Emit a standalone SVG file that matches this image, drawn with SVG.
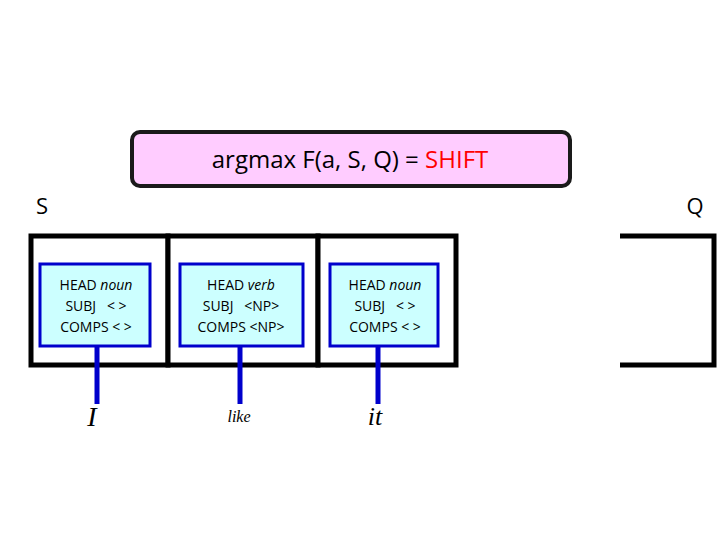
<svg xmlns="http://www.w3.org/2000/svg" width="720" height="540" viewBox="0 0 720 540">
<style>
.s{font-family:"Open Sans","Liberation Sans",sans-serif;font-size:14px;text-anchor:middle;fill:#000}
.w{font-family:"Liberation Serif",serif;font-style:italic;text-anchor:middle;fill:#000}
.cell{fill:#fff;stroke:#000;stroke-width:5}
.fs{fill:#ccffff;stroke:#0000cc;stroke-width:3}
.ln{stroke:#0000cc;stroke-width:5}
</style>
<rect width="720" height="540" fill="#fff"/>
<g id="banner">
<rect x="132" y="132" width="438" height="54" rx="8" fill="#ffccff" stroke="#1a1a1a" stroke-width="4"/>
<text x="350" y="168" font-family="Open Sans, Liberation Sans, sans-serif" font-size="24" text-anchor="middle">argmax F(a, S, Q) = <tspan fill="#ff0000">SHIFT</tspan></text>
</g>
<text x="42" y="214" font-family="Open Sans, Liberation Sans, sans-serif" font-size="22" text-anchor="middle">S</text>
<text x="695" y="214" font-family="Open Sans, Liberation Sans, sans-serif" font-size="22" text-anchor="middle">Q</text>
<g id="stack">
<rect class="cell" x="31" y="236" width="137" height="129"/>
<rect class="cell" x="168" y="236" width="150" height="129"/>
<rect class="cell" x="318" y="236" width="138" height="129"/>
</g>
<g id="queue"><path d="M620 236H714V365H620" fill="none" stroke="#000" stroke-width="5"/></g>
<g id="connectors">
<line class="ln" x1="97" y1="346" x2="97" y2="404"/>
<line class="ln" x1="240" y1="346" x2="240" y2="404"/>
<line class="ln" x1="378" y1="346" x2="378" y2="404"/>
</g>
<g id="n1"><rect class="fs" x="40" y="264" width="110" height="82"/>
<text class="s" x="96" y="290">HEAD <tspan font-style="italic">noun</tspan></text>
<text class="s" x="96" y="311">SUBJ &#160; &lt; &gt;</text>
<text class="s" x="96" y="332">COMPS &lt; &gt;</text>
<text class="w" x="92" y="426" font-size="28">I</text></g>
<g id="n2"><rect class="fs" x="180" y="264" width="123" height="82"/>
<text class="s" x="241" y="290">HEAD <tspan font-style="italic">verb</tspan></text>
<text class="s" x="241" y="311">SUBJ &#160; &lt;NP&gt;</text>
<text class="s" x="241" y="332">COMPS &lt;NP&gt;</text>
<text class="w" x="239" y="422" font-size="16">like</text></g>
<g id="n3"><rect class="fs" x="330" y="264" width="108" height="82"/>
<text class="s" x="385" y="290">HEAD <tspan font-style="italic">noun</tspan></text>
<text class="s" x="385" y="311">SUBJ &#160; &lt; &gt;</text>
<text class="s" x="385" y="332">COMPS &lt; &gt;</text>
<text class="w" x="375" y="425" font-size="26">it</text></g>
</svg>
